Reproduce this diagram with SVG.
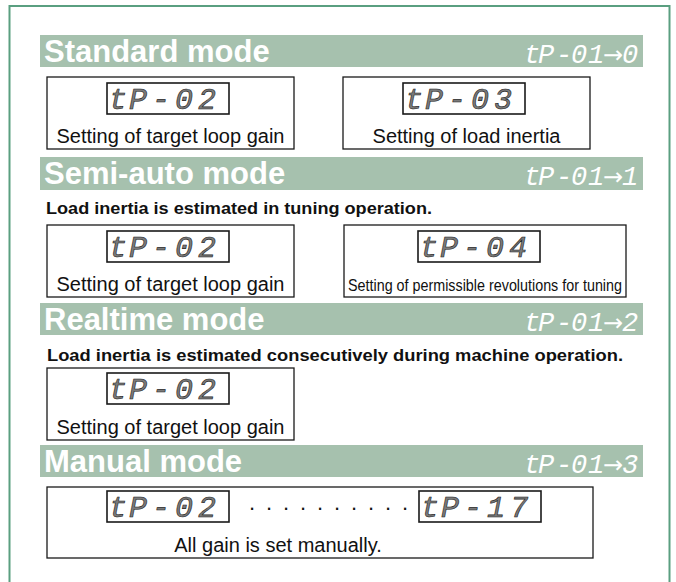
<svg xmlns="http://www.w3.org/2000/svg" width="676" height="582" viewBox="0 0 676 582">
<style>
.frame{fill:none;stroke:#5a9f80;stroke-width:2}
.bar{fill:#a6c1ae}
.htxt{font-family:"Liberation Sans",Arial,sans-serif;font-weight:bold;font-size:31px;fill:#ffffff}
.code{font-family:"Liberation Mono",monospace;font-style:italic;font-size:27px;fill:#ffffff}
.arr{font-family:"DejaVu Sans",sans-serif;font-style:normal;font-size:24px}
.box{fill:#ffffff;stroke:#1a1a1a;stroke-width:1.3}
.disp{fill:#ffffff;stroke:#1a1a1a;stroke-width:1.6}
.dtxt{font-family:"Liberation Mono",monospace;font-style:italic;font-size:30px;fill:#7a7a7a;stroke:#1a1a1a;stroke-width:0.6}
.cap{font-family:"Liberation Sans",Arial,sans-serif;font-size:20px;fill:#111111;text-anchor:middle}
.dots{font-family:"Liberation Sans",Arial,sans-serif;font-size:22px;fill:#111111}
.note{font-family:"Liberation Sans",Arial,sans-serif;font-weight:bold;font-size:16px;fill:#111111}
</style>
<rect class="frame" x="9.5" y="6" width="660" height="590"/>

<g id="standard">
<rect class="bar" x="40" y="35" width="603" height="32"/>
<text class="htxt" x="44" y="62">Standard mode</text>
<text class="code" x="524 538 556 571 588" y="63">tP-01<tspan class="arr" x="603">→</tspan><tspan x="622">0</tspan></text>
</g>
<g id="std-gain">
<rect class="box" x="47" y="77" width="247" height="72"/>
<rect class="disp" x="107" y="83" width="122" height="31"/>
<text class="dtxt" x="109 129 152 175 198" y="109">tP-02</text>
<text class="cap" x="170.5" y="143">Setting of target loop gain</text>
</g>
<g id="std-inertia">
<rect class="box" x="343" y="77" width="247" height="72"/>
<rect class="disp" x="403" y="83" width="122" height="31"/>
<text class="dtxt" x="405 425 448 471 494" y="109">tP-03</text>
<text class="cap" x="466.5" y="143">Setting of load inertia</text>
</g>

<g id="semiauto">
<rect class="bar" x="40" y="157" width="603" height="33"/>
<text class="htxt" x="44" y="184">Semi-auto mode</text>
<text class="code" x="524 538 556 571 588" y="185">tP-01<tspan class="arr" x="603">→</tspan><tspan x="622">1</tspan></text>
<text class="note" x="46" y="214" textLength="386" lengthAdjust="spacingAndGlyphs">Load inertia is estimated in tuning operation.</text>
</g>
<g id="semi-gain">
<rect class="box" x="47" y="225" width="247" height="72"/>
<rect class="disp" x="107" y="231" width="122" height="31"/>
<text class="dtxt" x="109 129 152 175 198" y="257">tP-02</text>
<text class="cap" x="170.5" y="291">Setting of target loop gain</text>
</g>
<g id="semi-rev">
<rect class="box" x="344" y="225" width="282" height="72"/>
<rect class="disp" x="418" y="231" width="122" height="31"/>
<text class="dtxt" x="420 440 463 486 509" y="257">tP-04</text>
<text class="cap" x="485" y="291" textLength="274" lengthAdjust="spacingAndGlyphs" style="font-size:17px">Setting of permissible revolutions for tuning</text>
</g>

<g id="realtime">
<rect class="bar" x="40" y="303" width="603" height="32"/>
<text class="htxt" x="44" y="330">Realtime mode</text>
<text class="code" x="524 538 556 571 588" y="331">tP-01<tspan class="arr" x="603">→</tspan><tspan x="622">2</tspan></text>
<text class="note" x="47" y="361" textLength="576" lengthAdjust="spacingAndGlyphs">Load inertia is estimated consecutively during machine operation.</text>
</g>
<g id="rt-gain">
<rect class="box" x="47" y="368" width="247" height="72"/>
<rect class="disp" x="107" y="373" width="122" height="31"/>
<text class="dtxt" x="109 129 152 175 198" y="399">tP-02</text>
<text class="cap" x="170.5" y="434">Setting of target loop gain</text>
</g>

<g id="manual">
<rect class="bar" x="40" y="445" width="603" height="32"/>
<text class="htxt" x="44" y="472">Manual mode</text>
<text class="code" x="524 538 556 571 588" y="473">tP-01<tspan class="arr" x="603">→</tspan><tspan x="622">3</tspan></text>
</g>
<g id="manual-box">
<rect class="box" x="47" y="487" width="546" height="71"/>
<rect class="disp" x="107" y="491" width="122" height="31"/>
<text class="dtxt" x="109 129 152 175 198" y="517">tP-02</text>
<text class="dots" x="249 266 283 300 317 334 351 368 385 402" y="510">..........</text>
<rect class="disp" x="419" y="491" width="122" height="31"/>
<text class="dtxt" x="421 441 464 487 510" y="517">tP-17</text>
<text class="cap" x="278" y="552">All gain is set manually.</text>
</g>
<g id="connectors"></g>
</svg>
